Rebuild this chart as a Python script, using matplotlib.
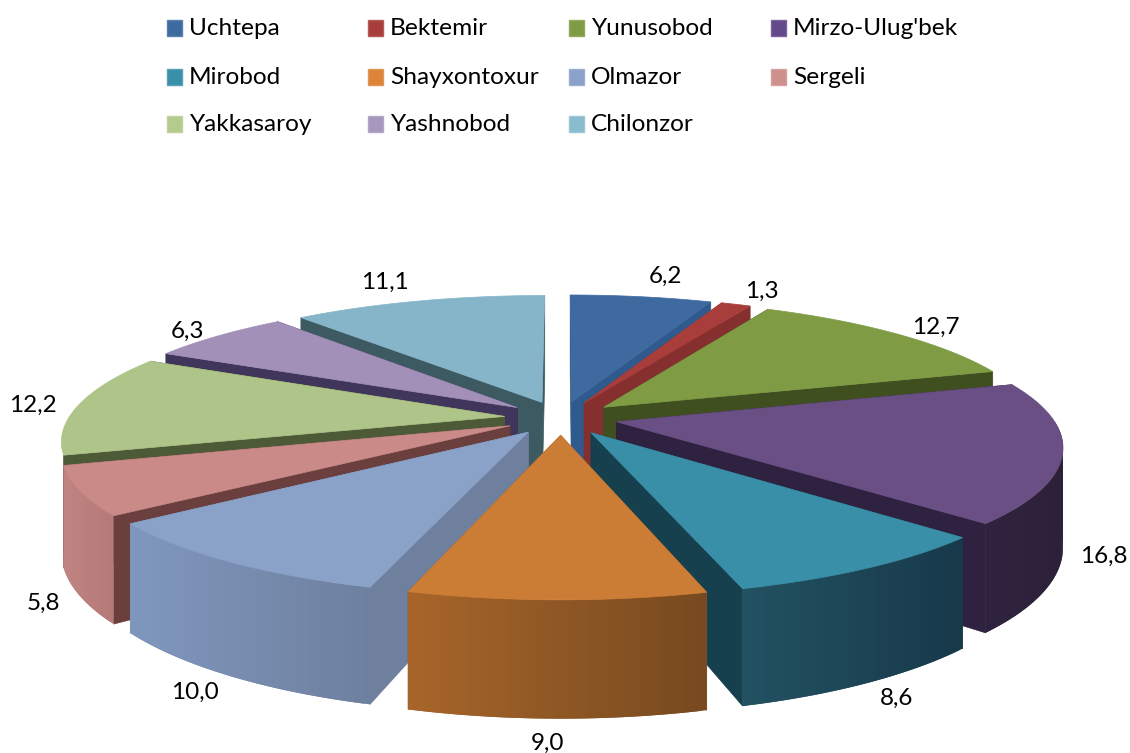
import numpy as np
import matplotlib
matplotlib.use('Agg')
import matplotlib.pyplot as plt
from matplotlib.colors import to_rgb
from matplotlib.patches import Polygon, Rectangle

districts = ['Uchtepa', 'Bektemir', 'Yunusobod', "Mirzo-Ulug'bek", 'Mirobod', 'Shayxontoxur',
             'Olmazor', 'Sergeli', 'Yakkasaroy', 'Yashnobod', 'Chilonzor']
shares = [6.2, 1.3, 12.7, 16.8, 8.6, 9.0, 10.0, 5.8, 12.2, 6.3, 11.1]

top_colors = ['#3f6aa0', '#a83e3b', '#7f9c45', '#6a4f85', '#3a8fa8', '#cb7d36',
              '#8aa1c8', '#c98a88', '#afc488', '#a390b8', '#86b5ca']
cut_colors = ['#2f5a8e', '#852f2e', '#3f4f1f', '#2f2140', '#17404f', '#8a5525',
              '#6f7f9e', '#6b3f3e', '#4c5a38', '#40355a', '#3d5a62']
side_left = ['#2f5a8e', '#852f2e', '#5f7532', '#2f2240', '#235262', '#a8652a',
             '#8097bd', '#c08482', '#8fa56c', '#7d6c92', '#5f8798']
side_right = ['#2f5a8e', '#852f2e', '#5f7532', '#2d2138', '#17394a', '#774a1f',
              '#6e80a0', '#b57a78', '#8fa56c', '#7d6c92', '#5f8798']
legend_colors = ['#3f6aa0', '#a83e3b', '#7f9c45', '#63488a', '#3a8fa8', '#dd8439',
                 '#8aa1c8', '#cf8f8d', '#b5cb8e', '#a597bd', '#8abccf']

# pie geometry in pixels
cx, cy = 561, 418
rx, ry = 436, 130
persp = 0.17
explode = 0.13
depth = 96


def project(u, v, z=0.0):
    s = 1 / (1 + persp * v)
    return cx + rx * u * s, cy - ry * v * s + depth * z * s


def mix(c1, c2, t):
    a, b = np.array(to_rgb(c1)), np.array(to_rgb(c2))
    return a + (b - a) * t


fig = plt.figure(figsize=(11.3, 7.53), dpi=100)
ax = fig.add_axes([0, 0, 1, 1])
ax.set_xlim(0, 1130)
ax.set_ylim(753, 0)
ax.axis('off')

edges = np.cumsum([0] + shares) / np.sum(shares) * 2 * np.pi
mids = (edges[:-1] + edges[1:]) / 2

# back slices first so the front ones cover them
for i in np.argsort(-np.cos(mids)):
    a0, a1 = edges[i], edges[i + 1]
    du, dv = explode * np.sin(mids[i]), explode * np.cos(mids[i])
    theta = np.linspace(a0, a1, max(int(shares[i] * 6), 8))
    # keep the silhouette points so the wall starts right at the rim
    for rim in (np.pi / 2, 3 * np.pi / 2):
        if a0 < rim < a1:
            theta = np.union1d(theta, [rim])
    u, v = du + np.sin(theta), dv + np.cos(theta)

    # flat cut faces
    for k in (0, -1):
        quad = [project(du, dv), project(u[k], v[k]), project(u[k], v[k], 1), project(du, dv, 1)]
        ax.add_patch(Polygon(quad, closed=True, fc=cut_colors[i], ec=cut_colors[i], lw=0.5))

    # rounded outer wall, only on slices facing us
    # each strip runs over the next one so no seams show
    front = np.where(np.cos(theta) <= 1e-9)[0]
    if len(front) > 1 and np.cos(mids[i]) < 0:
        x_top = np.array([project(u[k], v[k])[0] for k in front])
        for n in range(len(front) - 1):
            k = front[n]
            j = front[min(n + 2, len(front) - 1)]
            t = (x_top[n] - x_top.min()) / (x_top.max() - x_top.min())
            quad = [project(u[k], v[k]), project(u[j], v[j]),
                    project(u[j], v[j], 1), project(u[k], v[k], 1)]
            ax.add_patch(Polygon(quad, closed=True, fc=mix(side_left[i], side_right[i], t), ec='none', lw=0))

    top = [project(du, dv)] + [project(a, b) for a, b in zip(u, v)]
    ax.add_patch(Polygon(top, closed=True, fc=top_colors[i], ec=top_colors[i], lw=0.5))

# data labels
label_x = [665, 762, 936, 1104, 897, 547, 195, 43, 33, 187, 385]
label_y = [276, 291, 327, 556, 698, 743, 692, 603, 405, 331, 282]
for name, val, x, y in zip(districts, shares, label_x, label_y):
    ax.text(x, y, f'{val:.1f}'.replace('.', ','), ha='center', va='center',
            fontsize=17.5, family='Lato', color='black')

# legend, row by row
col_x = [167, 368, 569, 771]
row_y = [28, 77, 124]
for i, name in enumerate(districts):
    x, y = col_x[i % 4], row_y[i // 4]
    ax.add_patch(Rectangle((x, y - 8), 15, 16, fc=legend_colors[i], ec=mix(legend_colors[i], '#ffffff', 0.15), lw=1))
    ax.text(x + 22, y, name, ha='left', va='center', fontsize=17.6, family='Lato', color='black')

fig.savefig('out.png', dpi=100)
